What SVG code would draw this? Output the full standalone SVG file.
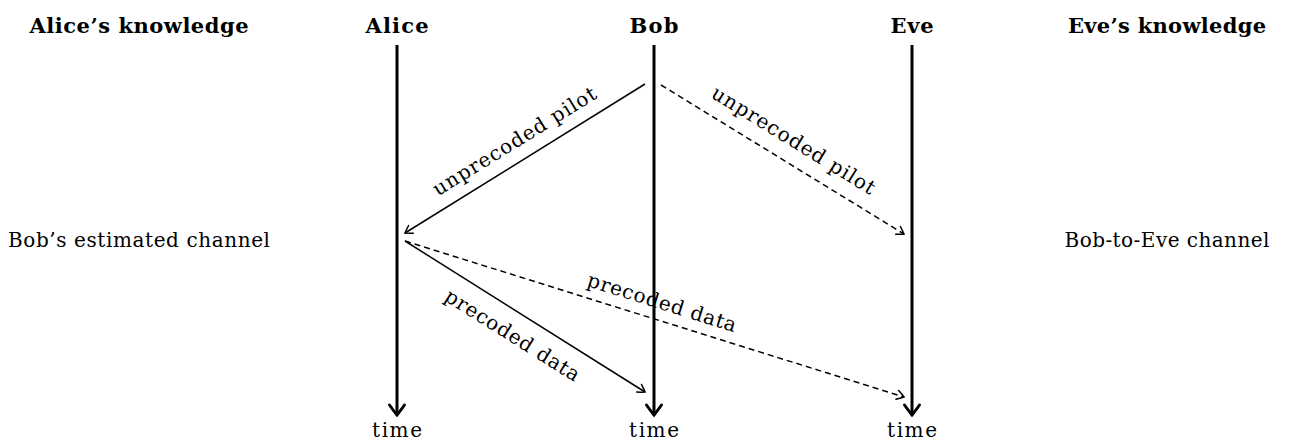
<svg xmlns="http://www.w3.org/2000/svg" width="1290" height="441" viewBox="0 0 1290 441">
<style>
text{font-family:"DejaVu Serif","Liberation Serif",serif;fill:#000;font-size:20px}
.b{font-weight:bold;font-size:21px}
.m{text-anchor:middle}
.axis{stroke:#000;stroke-width:3;fill:none}
.msg{stroke:#000;stroke-width:1.5;fill:none}
.dash{stroke-dasharray:6 4}
</style>
<defs>
<marker id="thin" markerUnits="userSpaceOnUse" viewBox="-10 -7 12 14" markerWidth="12" markerHeight="14" refX="0" refY="0" orient="auto" overflow="visible">
<path d="M-7,-4.5 Q-2,-1.5 0,0 Q-2,1.5 -7,4.5" fill="none" stroke="#000" stroke-width="1.5" stroke-linecap="round"/>
</marker>
<marker id="thick" markerUnits="userSpaceOnUse" viewBox="-12 -9 14 18" markerWidth="14" markerHeight="18" refX="0" refY="0" orient="auto" overflow="visible">
<path d="M-10,-7.5 Q-3,-2.5 0,0 Q-3,2.5 -10,7.5" fill="none" stroke="#000" stroke-width="3" stroke-linecap="round"/>
</marker>
</defs>
<g id="alice-knowledge">
<text class="b m" x="139" y="33" textLength="219">Alice’s knowledge</text>
<text x="8" y="247" textLength="262">Bob’s estimated channel</text>
</g>
<g id="eve-knowledge">
<text class="b m" x="1167" y="33" textLength="198">Eve’s knowledge</text>
<text class="m" x="1167" y="247" textLength="205">Bob-to-Eve channel</text>
</g>
<g id="alice">
<text class="b m" x="397" y="33" textLength="63">Alice</text>
<line class="axis" x1="397" y1="45" x2="397" y2="415" marker-end="url(#thick)"/>
<text class="m" x="397" y="437" textLength="50">time</text>
</g>
<g id="bob">
<text class="b m" x="654" y="33" textLength="49">Bob</text>
<line class="axis" x1="654" y1="45" x2="654" y2="415" marker-end="url(#thick)"/>
<text class="m" x="654" y="437" textLength="50">time</text>
</g>
<g id="eve">
<text class="b m" x="912" y="33" textLength="43">Eve</text>
<line class="axis" x1="912" y1="45" x2="912" y2="415" marker-end="url(#thick)"/>
<text class="m" x="912" y="437" textLength="50">time</text>
</g>
<g id="connectors">
<line class="msg" x1="645" y1="84" x2="405" y2="233" marker-end="url(#thin)"/>
<line class="msg dash" x1="661" y1="85" x2="904" y2="234" marker-end="url(#thin)"/>
<line class="msg" x1="405" y1="241" x2="645" y2="392" marker-end="url(#thin)"/>
<line class="msg dash" x1="405" y1="241" x2="904" y2="397" marker-end="url(#thin)"/>
<text class="m" transform="translate(518,147) rotate(-31.7)" textLength="188">unprecoded pilot</text>
<text class="m" transform="translate(790,146) rotate(31.6)" textLength="188">unprecoded pilot</text>
<text class="m" transform="translate(509,341) rotate(32.1)" textLength="155">precoded data</text>
<text class="m" transform="translate(660,309) rotate(17.4)" textLength="155">precoded data</text>
</g>
</svg>
